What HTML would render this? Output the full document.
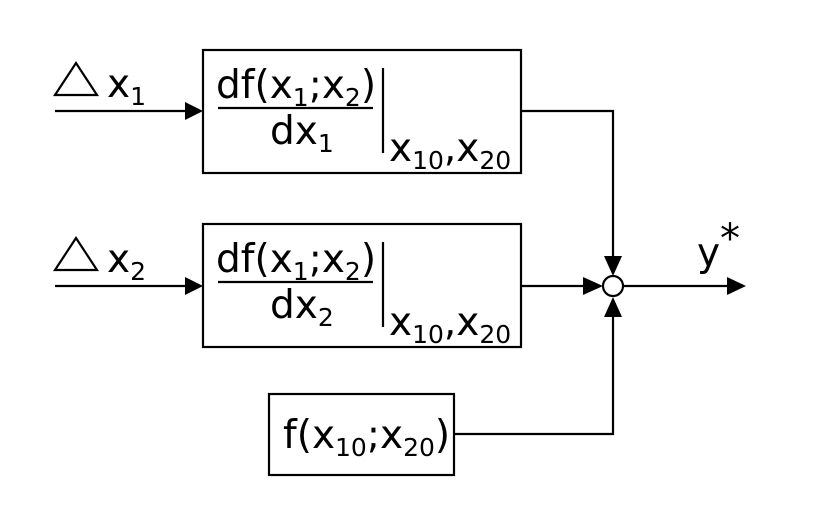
<!DOCTYPE html>
<html><head><style>body{margin:0;background:#fff}</style></head><body>
<svg width="819" height="512" xmlns="http://www.w3.org/2000/svg" font-family="DejaVu Sans, Liberation Sans, sans-serif" fill="#000">
<g stroke="#000" stroke-width="2.2" fill="none">
<rect x="203" y="50" width="318" height="123"/>
<rect x="203" y="224" width="318" height="123"/>
<rect x="269" y="394" width="185" height="81"/>
<line x1="55" y1="111" x2="188" y2="111"/>
<line x1="55" y1="286" x2="188" y2="286"/>
<polyline points="521,111 613,111 613,262"/>
<line x1="521" y1="286" x2="590" y2="286"/>
<polyline points="454,434 613,434 613,310"/>
<line x1="623" y1="286" x2="730" y2="286"/>
<circle cx="613" cy="286" r="10" fill="#fff"/>
<polygon points="55,95 97,95 76,63"/>
<polygon points="55,270 97,270 76,238"/>
<line x1="218" y1="108" x2="373" y2="108"/>
<line x1="218" y1="282" x2="373" y2="282"/>
<line x1="383" y1="68" x2="383" y2="153"/>
<line x1="383" y1="242" x2="383" y2="327"/>
</g>
<polygon points="185,102 203,111 185,120"/>
<polygon points="185,277 203,286 185,295"/>
<polygon points="604,256 622,256 613,276"/>
<polygon points="583,277 603,286 583,295"/>
<polygon points="604,317 622,317 613,297"/>
<polygon points="727,277 746,286 727,295"/>
<g font-size="39">
<text x="107" y="97">x<tspan font-size="25" dy="8">1</tspan></text>
<text x="107" y="272">x<tspan font-size="25" dy="8">2</tspan></text>
<text x="216" y="98">df(x<tspan font-size="25" dy="8">1</tspan><tspan dy="-8">;x</tspan><tspan font-size="25" dy="8">2</tspan><tspan dy="-8">)</tspan></text>
<text x="270" y="144">dx<tspan font-size="25" dy="8">1</tspan></text>
<text x="389" y="161">x<tspan font-size="25" dy="8">10</tspan><tspan dy="-8">,x</tspan><tspan font-size="25" dy="8">20</tspan></text>
<text x="216" y="272">df(x<tspan font-size="25" dy="8">1</tspan><tspan dy="-8">;x</tspan><tspan font-size="25" dy="8">2</tspan><tspan dy="-8">)</tspan></text>
<text x="270" y="318">dx<tspan font-size="25" dy="8">2</tspan></text>
<text x="389" y="335">x<tspan font-size="25" dy="8">10</tspan><tspan dy="-8">,x</tspan><tspan font-size="25" dy="8">20</tspan></text>
<text x="283" y="448">f(x<tspan font-size="25" dy="8">10</tspan><tspan dy="-8">;x</tspan><tspan font-size="25" dy="8">20</tspan><tspan dy="-8">)</tspan></text>
<text x="697" y="266">y</text>
<text x="720" y="252" font-size="40">*</text>
</g>
</svg>
</body></html>
